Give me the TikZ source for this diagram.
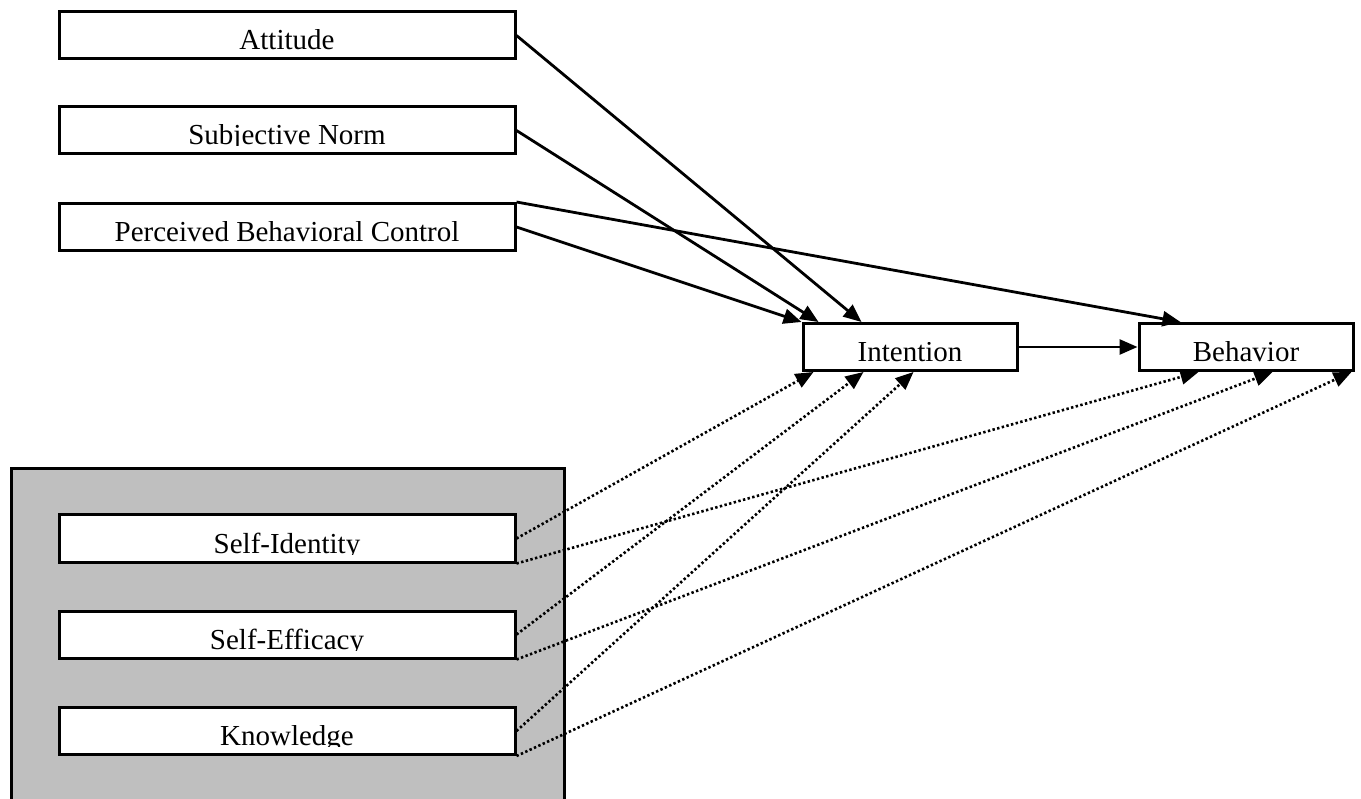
\documentclass[tikz,border=0pt]{standalone}
\usepackage{fontspec}
\setmainfont{Liberation Serif}
\usetikzlibrary{arrows.meta}

% text whose descenders are cut off just under the baseline
\newcommand{\cuttext}[1]{%
  \tikz[baseline=0pt]{%
    \node[inner sep=0pt,outer sep=0pt,minimum size=0pt,text height=,text depth=,anchor=base] (ct) {\phantom{#1}};
    \clip (ct.north west) rectangle ([yshift=-1pt]ct.base east);
    \node[inner sep=0pt,outer sep=0pt,minimum size=0pt,text height=,text depth=,anchor=base] {#1};}}

\begin{document}
\begin{tikzpicture}[
  x=1pt,y=-1pt,
  line width=2.8pt,
  font=\fontsize{29}{33}\selectfont,
  box/.style={draw,fill=white,line width=3pt,inner sep=0pt,minimum height=47pt,text height=29pt,text depth=0pt},
  wide/.style={box,minimum width=456pt},
  narrow/.style={box,minimum width=214pt},
  arr/.style={-{Triangle[length=18pt,width=15pt]}},
  dotarr/.style={arr,line width=2.6pt,dash pattern=on 2.4pt off 2.4pt}
]
  \useasboundingbox (0,0) rectangle (1361,799);
  \node[draw,fill=black!25,line width=3pt,minimum width=553pt,minimum height=345pt,anchor=north west] (grp) at (10,467) {};
  \node[wide] (att) at (287,35.5) {\cuttext{Attitude}};
  \node[wide] (sn) at (287,130.5) {\cuttext{Subjective Norm}};
  \node[wide] (pbc) at (287,227) {\cuttext{Perceived Behavioral Control}};
  \node[narrow] (intent) at (910,347) {\cuttext{Intention}};
  \node[narrow] (behav) at (1246,347) {\cuttext{Behavior}};
  \node[wide] (sid) at (287,538.5) {\cuttext{Self-Identity}};
  \node[wide] (seff) at (287,634.5) {\cuttext{Self-Efficacy}};
  \node[wide] (know) at (287,731) {\cuttext{Knowledge}};
  % solid paths
  \draw[arr] (att.east) -- ([xshift=60pt]intent.north west);
  \draw[arr] (sn.east) -- ([xshift=17pt]intent.north west);
  \draw[arr] (pbc.east) -- (intent.north west);
  \draw[arr] (pbc.north east) -- ([xshift=43pt]behav.north west);
  \draw[arr] (intent.east) -- (behav.west);
  % dotted paths
  \draw[dotarr] (sid.east) -- ([xshift=12pt]intent.south west);
  \draw[dotarr] (sid.south east) -- ([xshift=61pt]behav.south west);
  \draw[dotarr] (seff.east) -- ([xshift=62pt]intent.south west);
  \draw[dotarr] (seff.south east) -- ([xshift=135pt]behav.south west);
  \draw[dotarr] (know.east) -- ([xshift=112pt]intent.south west);
  \draw[dotarr] (know.south east) -- ([xshift=-3pt]behav.south east);
\end{tikzpicture}
\end{document}
